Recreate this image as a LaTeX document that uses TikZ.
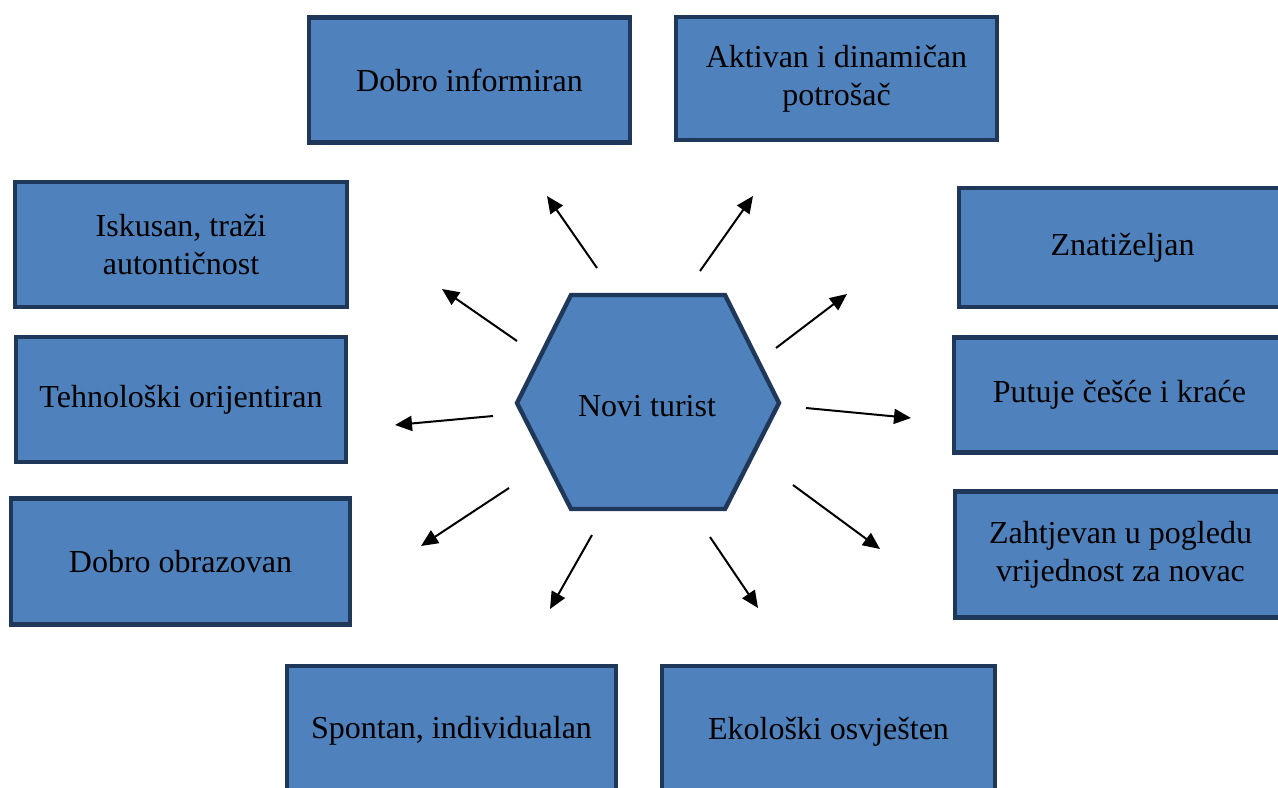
\documentclass[tikz,border=0pt]{standalone}
\usepackage{fontspec}
\setmainfont{Liberation Serif}
\usetikzlibrary{arrows.meta}
\definecolor{boxfill}{HTML}{4F81BD}
\definecolor{boxline}{HTML}{1F3859}
\tikzset{
  card/.style={draw=boxline, fill=boxfill, line width=2.2pt, inner sep=0pt,
    align=center, font=\fontsize{16}{19}\selectfont},
  ray/.style={line width=1pt, -{Triangle[length=8.5pt,width=7.5pt]}},
}
\begin{document}
\begin{tikzpicture}[x=0.5pt,y=-0.5pt]
\useasboundingbox (0,0) rectangle (1278,787);
\clip (0,0) rectangle (1278,787);
\fill[white] (0,0) rectangle (1278,787);
% boxes
\node[card, minimum width=160.5pt, minimum height=62.5pt] (b1) at (469.5,80) {Dobro informiran};
\node[card, minimum width=160.5pt, minimum height=61.5pt] (b2) at (836.5,78.5) {Aktivan i dinamičan\\potrošač};
\node[card, minimum width=166pt, minimum height=62.5pt] (b3) at (181,244.5) {Iskusan, traži\\autontičnost};
\node[card, minimum width=163.5pt, minimum height=59.5pt] (b4) at (1122.5,247.5) {Znatiželjan};
\node[card, minimum width=165pt, minimum height=62.5pt] (b5) at (181,399.5) {Tehnološki orijentiran};
\node[card, minimum width=165.5pt, minimum height=57.5pt] (b6) at (1119.5,395) {Putuje češće i kraće};
\node[card, minimum width=169.5pt, minimum height=63pt] (b7) at (180.5,561.5) {Dobro obrazovan};
\node[card, minimum width=165.5pt, minimum height=63pt] (b8) at (1120.5,554.5) {Zahtjevan u pogledu\\vrijednost za novac};
\node[card, minimum width=164.5pt, minimum height=65pt] (b9) at (451.5,731) {Spontan, individualan};
\node[card, minimum width=166.5pt, minimum height=66pt] (b10) at (828.5,732) {Ekološki osvješten};
% hexagon
\draw[draw=boxline, fill=boxfill, line width=2.2pt, line join=miter]
  (571,295) -- (725,295) -- (779,403) -- (725,509) -- (571,509) -- (517,403) -- cycle;
\node[font=\fontsize{16}{19}\selectfont, inner sep=0pt] (hex) at (647,406) {Novi turist};
% arrow end points
\coordinate (s1) at (597,268);  \coordinate (t1) at (547,196);
\coordinate (s2) at (700,271);  \coordinate (t2) at (753,196);
\coordinate (s3) at (776,348);  \coordinate (t3) at (847,294);
\coordinate (s4) at (806,408);  \coordinate (t4) at (911,418);
\coordinate (s5) at (793,485);  \coordinate (t5) at (880,549);
\coordinate (s6) at (710,537);  \coordinate (t6) at (758,608);
\coordinate (s7) at (592,535);  \coordinate (t7) at (550,609);
\coordinate (s8) at (509,488);  \coordinate (t8) at (421,546);
\coordinate (s9) at (493,416);  \coordinate (t9) at (395,425);
\coordinate (s10) at (517,341); \coordinate (t10) at (442,289);
\foreach \i in {1,...,10} \draw[ray] (s\i) -- (t\i);
\end{tikzpicture}
\end{document}
